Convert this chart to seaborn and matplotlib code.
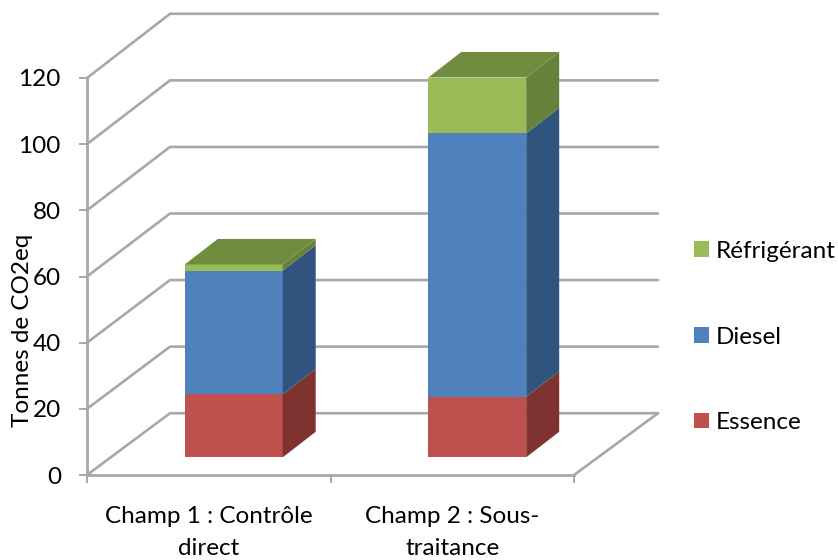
import matplotlib.pyplot as plt
import seaborn as sns
from matplotlib.patches import Patch, Polygon
from matplotlib.transforms import Affine2D, IdentityTransform

categories = ['Champ 1', 'Champ 2']
tick_labels = ['Champ 1 : Contrôle\ndirect', 'Champ 2 : Sous-\ntraitance']
essence = [19.0, 18.3]
diesel = [37.4, 79.6]
refrigerant = [1.9, 16.9]
y_ticks = [0, 20, 40, 60, 80, 100, 120]

GREY = '#a8a8a8'
FONT = 'Lato'
FS = 17.5

sns.set_theme(style='white')
plt.rcParams['font.family'] = [FONT, 'DejaVu Sans']

W, H = 838, 560
fig = plt.figure(figsize=(W / 100, H / 100), dpi=100)
ax = fig.add_axes([87 / W, (H - 475) / H, (574 - 87) / W, 397 / H])

series = [
    ('Essence', essence, '#bf504d', '#7e3331'),
    ('Diesel', diesel, '#4f81bd', '#31547f'),
    ('Réfrigérant', refrigerant, '#9bbb59', '#67803a'),
]
bottom = [0, 0]
for name, values, front, side in series:
    sns.barplot(x=categories, y=values, bottom=bottom, color=front, saturation=1,
                width=0.402, ax=ax, zorder=3, linewidth=0)
    bottom = [b + v for b, v in zip(bottom, values)]

ax.set_xlim(-0.5, 1.5)
ax.set_ylim(0, 120)
ax.set_yticks(y_ticks)
ax.set_xticks([-0.5, 0.5, 1.5], ['', '', ''])
for pos, lab in enumerate(tick_labels):
    ax.annotate(lab, (pos, 0), xytext=(0, -22), xycoords=('data', 'axes fraction'),
                textcoords='offset points', ha='center', va='top', fontsize=FS,
                color='black', linespacing=1.67)

ax.tick_params(axis='both', length=5.8, width=1.4, color=GREY, labelsize=FS,
               labelcolor='black', left=True, bottom=True)
ax.tick_params(axis='y', pad=13)
sns.despine(ax=ax)
for s in ['left', 'bottom']:
    ax.spines[s].set_color(GREY)
    ax.spines[s].set_linewidth(2)

# 3D walls and floor, in pixels
identity = IdentityTransform()
depth_x = 83
for v in y_ticks:
    x0, y0 = ax.transData.transform((-0.5, v))
    depth_y = 61.8 + 2.4 * v / 120
    ax.add_line(plt.Line2D([x0, x0 + depth_x, 658], [y0, y0 + depth_y, y0 + depth_y],
                           transform=identity, color=GREY, lw=1.9, zorder=1, clip_on=False))
x1, y1 = ax.transData.transform((1.5, 0))
ax.add_line(plt.Line2D([x1, 658], [y1, y1 + 61.8], transform=identity, color=GREY,
                       lw=1.9, zorder=1, clip_on=False))

# shift the bars to mid depth and add their side and top faces
shift = Affine2D().translate(25, 17.7)
bar_dx, bar_dy = 33, 25.5
for container, (name, values, front, side) in zip(ax.containers, series):
    for bar in container:
        bar.set_transform(ax.transData + shift)
        bar.set_clip_on(False)
        e = bar.get_window_extent()
        ax.add_patch(Polygon([(e.x1, e.y0), (e.x1 + bar_dx, e.y0 + bar_dy),
                              (e.x1 + bar_dx, e.y1 + bar_dy), (e.x1, e.y1)],
                             transform=identity, facecolor=side, edgecolor='none',
                             zorder=3, clip_on=False))
        if name == 'Réfrigérant':
            ax.add_patch(Polygon([(e.x0, e.y1), (e.x1, e.y1), (e.x1 + bar_dx, e.y1 + bar_dy),
                                  (e.x0 + bar_dx, e.y1 + bar_dy)],
                                 transform=identity, facecolor='#6f8c3f', edgecolor='none',
                                 zorder=3, clip_on=False))

ax.set_ylabel('Tonnes de CO2eq', fontsize=FS, color='black')
ax.yaxis.set_label_coords((33 - 87) / (574 - 87), (475 - 330) / 397)

handles = [Patch(facecolor=s[2], edgecolor='none', label=s[0]) for s in reversed(series)]
fig.legend(handles=handles, loc='center left', bbox_to_anchor=(672 / W, (H - 337) / H),
           frameon=False, fontsize=FS, handlelength=0.617, handleheight=0.617,
           handletextpad=0.29, labelspacing=2.66, labelcolor='black')

fig.savefig('out.png', dpi=100)
